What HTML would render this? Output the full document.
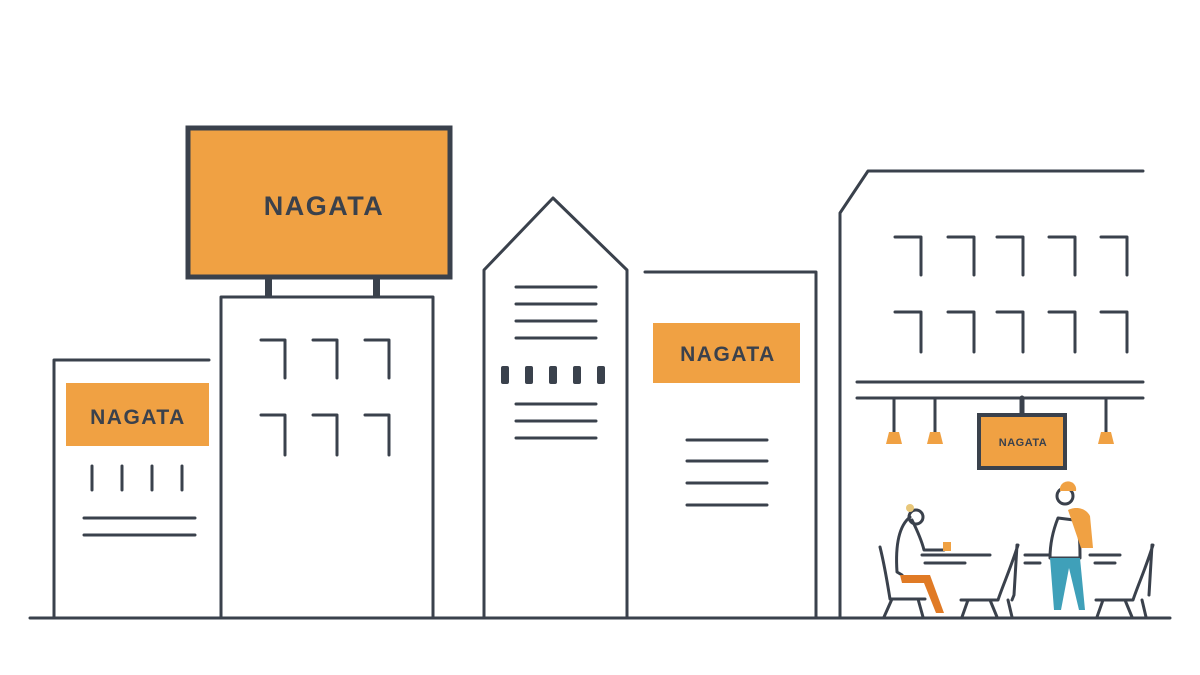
<!DOCTYPE html>
<html><head><meta charset="utf-8"><style>html,body{margin:0;padding:0;background:#fff}svg{display:block}</style></head><body>
<svg width="1200" height="675" viewBox="0 0 1200 675" xmlns="http://www.w3.org/2000/svg">
<g fill="none" stroke="#3a414c" stroke-width="3" stroke-linecap="round" stroke-linejoin="round">
<line x1="30" y1="618" x2="1170" y2="618"/>
<polyline points="54,618 54,360 209,360"/>
<path d="M92 466v24M122 466v24M152 466v24M182 466v24M84 518h111M84 535h111"/>
<polyline points="221,618 221,297 433,297 433,618"/>
<path d="M261 340h24v38M313 340h24v38M365 340h24v38M261 415h24v40M313 415h24v40M365 415h24v40"/>
<polyline points="484,618 484,270 553,198 627,270 627,618"/>
<path d="M516 287h80M516 304h80M516 321h80M516 338h80M516 404h80M516 421h80M516 438h80"/>
<polyline points="645,272 816,272 816,618"/>
<path d="M687 440h80M687 461h80M687 483h80M687 505h80"/>
<polyline points="840,618 840,213 868,171 1143,171"/>
<path d="M895 237h26v38M948 237h26v38M997 237h26v38M1049 237h26v38M1101 237h26v38M895 312h26v40M948 312h26v40M997 312h26v40M1049 312h26v40M1101 312h26v40"/>
<path d="M857 382h286M857 398h286M894 398v34M935 398v34M1106 398v34"/>
<line x1="1022" y1="398" x2="1022" y2="415" stroke-width="5"/>
<path d="M922 555h68M925 563h40M1025 555h25M1025 563h15M1090 555h30M1095 563h20"/>
<path d="M880 547c5 20 8 40 10 52h35M892 599l-8 18M918 599l5 18"/>
<path d="M1018 545c-8 25-15 40-20 55h-37M968 600l-6 17M990 600l7 17M1017 545l-3 50l-2 5M1008 600l4 17"/>
<path d="M1153 545c-8 25-15 40-20 55h-37M1103 600l-6 17M1125 600l7 17M1152 545l-3 50M1142 600l4 17"/>
<path d="M910 517c-10 8-15 25-13 55l5 3M912 520c5 10 10 22 12 30h20"/>
<circle cx="916" cy="517" r="7"/>
<path d="M1058 518c-6 15-8 30-8 40h30c0-15 0-28-6-38z"/>
<circle cx="1065" cy="496" r="8"/>
</g>
<g fill="#3a414c">
<rect x="265" y="277" width="7" height="20"/><rect x="373" y="277" width="7" height="20"/>
<rect x="501" y="366" width="8" height="18" rx="2"/><rect x="525" y="366" width="8" height="18" rx="2"/><rect x="549" y="366" width="8" height="18" rx="2"/><rect x="573" y="366" width="8" height="18" rx="2"/><rect x="597" y="366" width="8" height="18" rx="2"/>
</g>
<g fill="#f0a143">
<rect x="66" y="383" width="143" height="63"/>
<rect x="188" y="128" width="262" height="149" stroke="#3a414c" stroke-width="5"/>
<rect x="653" y="323" width="147" height="60"/>
<rect x="979" y="415" width="86" height="53" stroke="#3a414c" stroke-width="4"/>
<path d="M889 432h10l3 12h-16zM930 432h10l3 12h-16zM1101 432h10l3 12h-16z"/>
<rect x="943" y="542" width="8" height="9"/>
<path d="M1068 510c8-4 18-2 22 6l3 32h-12z"/>
<path d="M1060 488a8 8 0 0 1 16 3l-16 0z"/>
</g>
<path d="M900 575h30l14 38h-8l-12-30h-22z" fill="#e07a25"/>
<path d="M1050 558h30l5 52h-6l-10-42-8 42h-7z" fill="#3fa0b9"/>
<circle cx="910" cy="508" r="4" fill="#e8c77a"/>
<g font-family="'Liberation Sans',sans-serif" font-weight="bold" fill="#3a414c" text-anchor="middle">
<text x="138" y="424" font-size="21" letter-spacing="1.5">NAGATA</text>
<text x="324" y="215" font-size="27" letter-spacing="1.5">NAGATA</text>
<text x="728" y="361" font-size="21" letter-spacing="1.5">NAGATA</text>
<text x="1023" y="446" font-size="11" letter-spacing="0.5">NAGATA</text>
</g>
</svg>
</body></html>
